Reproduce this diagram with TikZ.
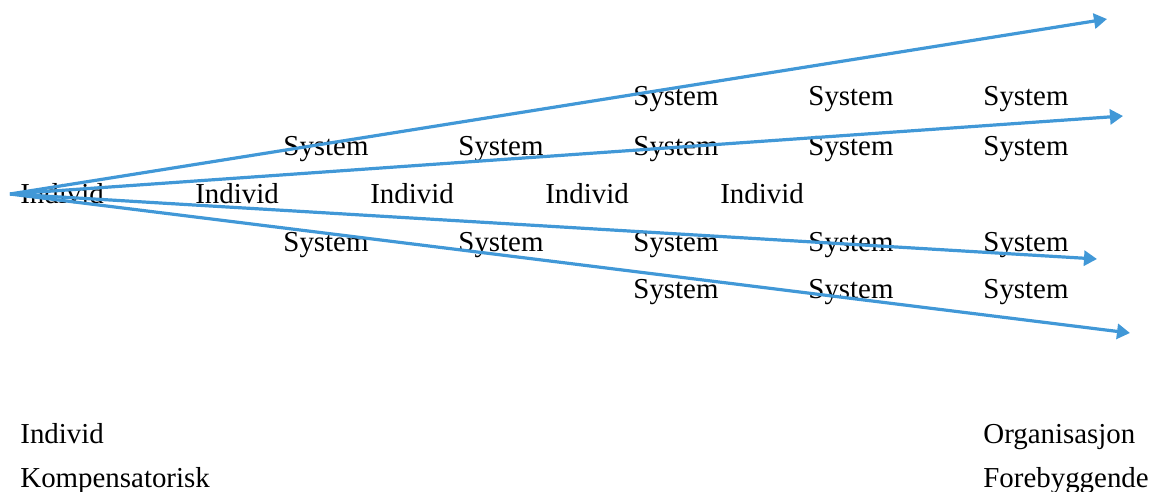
\documentclass[tikz,border=0pt]{standalone}
\usepackage{fontspec}
\setmainfont{Liberation Serif}
\usetikzlibrary{arrows.meta}
\definecolor{flowblue}{RGB}{65,152,215}
\begin{document}
\begin{tikzpicture}[x=0.5pt,y=-0.5pt,
  lbl/.style={inner sep=0pt,anchor=base,font=\fontsize{14.45}{17}\selectfont},
  lblleft/.style={lbl,anchor=base west},
  flow/.style={draw=flowblue,line width=1.6pt,-{Triangle[length=6.5pt,width=7.5pt]}}]
\useasboundingbox (0,0) rectangle (1153,492);
% upper system rows
\node[lbl] (s11) at (676,106) {System};
\node[lbl] (s12) at (851,106) {System};
\node[lbl] (s13) at (1026,106) {System};
\node[lbl] (s21) at (326,156) {System};
\node[lbl] (s22) at (501,156) {System};
\node[lbl] (s23) at (676,156) {System};
\node[lbl] (s24) at (851,156) {System};
\node[lbl] (s25) at (1026,156) {System};
% individual row
\node[lbl] (i1) at (62,204) {Individ};
\node[lbl] (i2) at (237,204) {Individ};
\node[lbl] (i3) at (412,204) {Individ};
\node[lbl] (i4) at (587,204) {Individ};
\node[lbl] (i5) at (762,204) {Individ};
% lower system rows
\node[lbl] (s31) at (326,252) {System};
\node[lbl] (s32) at (501,252) {System};
\node[lbl] (s33) at (676,252) {System};
\node[lbl] (s34) at (851,252) {System};
\node[lbl] (s35) at (1026,252) {System};
\node[lbl] (s41) at (676,299) {System};
\node[lbl] (s42) at (851,299) {System};
\node[lbl] (s43) at (1026,299) {System};
% axis captions
\node[lblleft] (cIndivid) at (20,443) {Individ};
\node[lblleft] (cKomp) at (20,487) {Kompensatorisk};
\node[lblleft] (cOrg) at (983,443) {Organisasjon};
\node[lblleft] (cFore) at (983,487) {Forebyggende};
% fanning arrows
\coordinate (o) at (10,194);
\coordinate (t1) at (1107,19);
\coordinate (t2) at (1123,116);
\coordinate (t3) at (1097,259);
\coordinate (t4) at (1130,333);
\draw[flow] (o) -- (t1);
\draw[flow] (o) -- (t2);
\draw[flow] (o) -- (t3);
\draw[flow] (o) -- (t4);
\end{tikzpicture}
\end{document}
